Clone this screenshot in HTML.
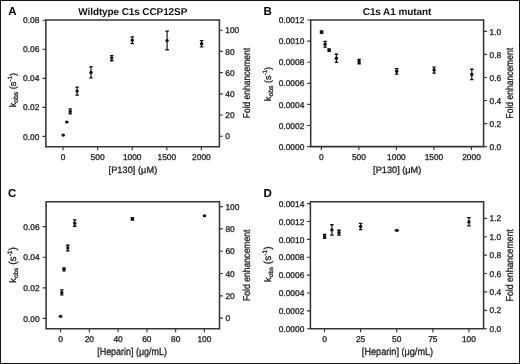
<!DOCTYPE html>
<html><head><meta charset="utf-8"><style>
html,body{margin:0;padding:0;background:#fff;}
body{width:520px;height:364px;overflow:hidden;}
svg{display:block;filter:grayscale(1);}
text{font-family:"Liberation Sans",sans-serif;text-rendering:geometricPrecision;}
.t{font-size:8.4px;fill:#1e1e1e;stroke:#1e1e1e;stroke-width:0.3px;}
.L{font-size:11.5px;font-weight:bold;fill:#000;}
.T{font-size:10px;font-weight:bold;fill:#111;}
.X{font-size:9.2px;fill:#1e1e1e;stroke:#1e1e1e;stroke-width:0.3px;}
.Y{font-size:9.2px;fill:#1e1e1e;stroke:#1e1e1e;stroke-width:0.3px;}
.sb{font-size:6.8px;}
.sp{font-size:6.2px;}
</style></head><body>
<svg width="520" height="364" viewBox="0 0 520 364">
<rect x="0.5" y="0.5" width="519" height="363" fill="#fff" stroke="#151515" stroke-width="1"/>
<path d="M45.85,20H219.4V146.7H45.85Z" fill="none" stroke="#353535" stroke-width="1.55"/>
<text x="39.4" y="139.5" text-anchor="end" class="t">0.00</text>
<text x="39.4" y="110.45" text-anchor="end" class="t">0.02</text>
<text x="39.4" y="81.4" text-anchor="end" class="t">0.04</text>
<text x="39.4" y="52.35" text-anchor="end" class="t">0.06</text>
<text x="39.4" y="23.3" text-anchor="end" class="t">0.08</text>
<text x="225.3" y="139.3" class="t">0</text>
<text x="225.3" y="118.1" class="t">20</text>
<text x="225.3" y="96.9" class="t">40</text>
<text x="225.3" y="75.7" class="t">60</text>
<text x="225.3" y="54.5" class="t">80</text>
<text x="225.3" y="33.3" class="t">100</text>
<text x="63" y="160.1" text-anchor="middle" class="t">0</text>
<text x="97.6" y="160.1" text-anchor="middle" class="t">500</text>
<text x="132.2" y="160.1" text-anchor="middle" class="t">1000</text>
<text x="166.8" y="160.1" text-anchor="middle" class="t">1500</text>
<text x="201.4" y="160.1" text-anchor="middle" class="t">2000</text>
<path d="M42.45,136.4H45.85M42.45,107.35H45.85M42.45,78.3H45.85M42.45,49.25H45.85M42.45,20.2H45.85M219.4,136.2H222.8M219.4,115H222.8M219.4,93.8H222.8M219.4,72.6H222.8M219.4,51.4H222.8M219.4,30.2H222.8M63,146.7V150.2M97.6,146.7V150.2M132.2,146.7V150.2M166.8,146.7V150.2M201.4,146.7V150.2" stroke="#353535" stroke-width="1.15"/>
<ellipse cx="63.2" cy="135.1" rx="1.85" ry="1.6" fill="#111"/>
<ellipse cx="66.8" cy="122" rx="1.85" ry="1.6" fill="#111"/>
<path d="M70.2,108.9V113.9" stroke="#111" stroke-width="1.15"/>
<path d="M68.45,108.95H71.95M68.45,113.85H71.95" stroke="#111" stroke-width="1.3"/>
<circle cx="70.2" cy="111.5" r="1.7" fill="#111"/>
<path d="M77.1,87V95.1" stroke="#111" stroke-width="1.15"/>
<path d="M75.35,87.05H78.85M75.35,95.05H78.85" stroke="#111" stroke-width="1.3"/>
<circle cx="77.1" cy="91.1" r="1.7" fill="#111"/>
<path d="M91,66.8V78" stroke="#111" stroke-width="1.15"/>
<path d="M89.25,66.85H92.75M89.25,77.95H92.75" stroke="#111" stroke-width="1.3"/>
<circle cx="91" cy="72.4" r="1.7" fill="#111"/>
<path d="M111.7,55.6V60.8" stroke="#111" stroke-width="1.15"/>
<path d="M109.95,55.65H113.45M109.95,60.75H113.45" stroke="#111" stroke-width="1.3"/>
<circle cx="111.7" cy="57.9" r="1.7" fill="#111"/>
<path d="M132.3,36.9V43.7" stroke="#111" stroke-width="1.15"/>
<path d="M130.55,36.95H134.05M130.55,43.65H134.05" stroke="#111" stroke-width="1.3"/>
<circle cx="132.3" cy="40.3" r="1.7" fill="#111"/>
<path d="M167.1,31.1V49.8" stroke="#111" stroke-width="1.15"/>
<path d="M165.35,31.15H168.85M165.35,49.75H168.85" stroke="#111" stroke-width="1.3"/>
<circle cx="167.1" cy="40.6" r="1.7" fill="#111"/>
<path d="M201.6,40.6V46.9" stroke="#111" stroke-width="1.15"/>
<path d="M199.85,40.65H203.35M199.85,46.85H203.35" stroke="#111" stroke-width="1.3"/>
<circle cx="201.6" cy="43.8" r="1.7" fill="#111"/>
<path d="M310.7,20H483.6V146.6H310.7Z" fill="none" stroke="#353535" stroke-width="1.55"/>
<text x="304.3" y="149.7" text-anchor="end" class="t">0.0000</text>
<text x="304.3" y="128.6" text-anchor="end" class="t">0.0002</text>
<text x="304.3" y="107.5" text-anchor="end" class="t">0.0004</text>
<text x="304.3" y="86.4" text-anchor="end" class="t">0.0006</text>
<text x="304.3" y="65.3" text-anchor="end" class="t">0.0008</text>
<text x="304.3" y="44.2" text-anchor="end" class="t">0.0010</text>
<text x="304.3" y="23.1" text-anchor="end" class="t">0.0012</text>
<text x="489.5" y="149.7" class="t">0.0</text>
<text x="489.5" y="126.66" class="t">0.2</text>
<text x="489.5" y="103.62" class="t">0.4</text>
<text x="489.5" y="80.58" class="t">0.6</text>
<text x="489.5" y="57.54" class="t">0.8</text>
<text x="489.5" y="34.5" class="t">1.0</text>
<text x="321.4" y="160.1" text-anchor="middle" class="t">0</text>
<text x="358.92" y="160.1" text-anchor="middle" class="t">500</text>
<text x="396.44" y="160.1" text-anchor="middle" class="t">1000</text>
<text x="433.96" y="160.1" text-anchor="middle" class="t">1500</text>
<text x="471.48" y="160.1" text-anchor="middle" class="t">2000</text>
<path d="M307.3,146.6H310.7M307.3,125.5H310.7M307.3,104.4H310.7M307.3,83.3H310.7M307.3,62.2H310.7M307.3,41.1H310.7M307.3,20H310.7M483.6,146.6H487M483.6,123.56H487M483.6,100.52H487M483.6,77.48H487M483.6,54.44H487M483.6,31.4H487M321.4,146.6V150.1M358.92,146.6V150.1M396.44,146.6V150.1M433.96,146.6V150.1M471.48,146.6V150.1" stroke="#353535" stroke-width="1.15"/>
<rect x="319.8" y="30.25" width="3.6" height="3.7" fill="#111"/>
<path d="M325.1,41.4V47.2" stroke="#111" stroke-width="1.15"/>
<path d="M323.35,41.45H326.85M323.35,47.15H326.85" stroke="#111" stroke-width="1.3"/>
<circle cx="325.1" cy="44.3" r="1.7" fill="#111"/>
<rect x="327.4" y="48.15" width="3.4" height="3.9" fill="#111"/>
<path d="M336.4,54.2V62.4" stroke="#111" stroke-width="1.15"/>
<path d="M334.65,54.25H338.15M334.65,62.35H338.15" stroke="#111" stroke-width="1.3"/>
<circle cx="336.4" cy="58.3" r="1.7" fill="#111"/>
<path d="M359.1,59.3V63.8" stroke="#111" stroke-width="1.15"/>
<path d="M357.35,59.35H360.85M357.35,63.75H360.85" stroke="#111" stroke-width="1.3"/>
<circle cx="359.1" cy="61.5" r="1.7" fill="#111"/>
<path d="M396.7,68.5V74.2" stroke="#111" stroke-width="1.15"/>
<path d="M394.95,68.55H398.45M394.95,74.15H398.45" stroke="#111" stroke-width="1.3"/>
<circle cx="396.7" cy="71.3" r="1.7" fill="#111"/>
<path d="M434.1,67.1V73.1" stroke="#111" stroke-width="1.15"/>
<path d="M432.35,67.15H435.85M432.35,73.05H435.85" stroke="#111" stroke-width="1.3"/>
<circle cx="434.1" cy="70" r="1.7" fill="#111"/>
<path d="M471.8,69.2V79.6" stroke="#111" stroke-width="1.15"/>
<path d="M470.05,69.25H473.55M470.05,79.55H473.55" stroke="#111" stroke-width="1.3"/>
<circle cx="471.8" cy="74.4" r="1.7" fill="#111"/>
<path d="M46.1,201.8H219.5V328.8H46.1Z" fill="none" stroke="#353535" stroke-width="1.55"/>
<text x="39.6" y="321.5" text-anchor="end" class="t">0.00</text>
<text x="39.6" y="290.9" text-anchor="end" class="t">0.02</text>
<text x="39.6" y="260.3" text-anchor="end" class="t">0.04</text>
<text x="39.6" y="229.7" text-anchor="end" class="t">0.06</text>
<text x="225.4" y="321.2" class="t">0</text>
<text x="225.4" y="298.9" class="t">20</text>
<text x="225.4" y="276.6" class="t">40</text>
<text x="225.4" y="254.3" class="t">60</text>
<text x="225.4" y="232" class="t">80</text>
<text x="225.4" y="209.7" class="t">100</text>
<text x="60.6" y="342" text-anchor="middle" class="t">0</text>
<text x="89.36" y="342" text-anchor="middle" class="t">20</text>
<text x="118.12" y="342" text-anchor="middle" class="t">40</text>
<text x="146.88" y="342" text-anchor="middle" class="t">60</text>
<text x="175.64" y="342" text-anchor="middle" class="t">80</text>
<text x="204.4" y="342" text-anchor="middle" class="t">100</text>
<path d="M42.7,318.4H46.1M42.7,287.8H46.1M42.7,257.2H46.1M42.7,226.6H46.1M219.5,318.1H222.9M219.5,295.8H222.9M219.5,273.5H222.9M219.5,251.2H222.9M219.5,228.9H222.9M219.5,206.6H222.9M60.6,328.8V332.3M89.36,328.8V332.3M118.12,328.8V332.3M146.88,328.8V332.3M175.64,328.8V332.3M204.4,328.8V332.3" stroke="#353535" stroke-width="1.15"/>
<ellipse cx="60.5" cy="316.3" rx="1.85" ry="1.6" fill="#111"/>
<path d="M61.8,289.9V295" stroke="#111" stroke-width="1.15"/>
<path d="M60.05,289.95H63.55M60.05,294.95H63.55" stroke="#111" stroke-width="1.3"/>
<circle cx="61.8" cy="292.6" r="1.7" fill="#111"/>
<rect x="62.35" y="267.2" width="3.3" height="4.3" fill="#111"/>
<path d="M67.8,245.2V250.9" stroke="#111" stroke-width="1.15"/>
<path d="M66.05,245.25H69.55M66.05,250.85H69.55" stroke="#111" stroke-width="1.3"/>
<circle cx="67.8" cy="247.9" r="1.7" fill="#111"/>
<path d="M74.7,219.8V226.3" stroke="#111" stroke-width="1.15"/>
<path d="M72.95,219.85H76.45M72.95,226.25H76.45" stroke="#111" stroke-width="1.3"/>
<circle cx="74.7" cy="223.2" r="1.7" fill="#111"/>
<rect x="130.65" y="217.05" width="3.4" height="3.7" fill="#111"/>
<ellipse cx="204.5" cy="215.75" rx="1.85" ry="1.6" fill="#111"/>
<path d="M310.4,201.7H483.6V328.7H310.4Z" fill="none" stroke="#353535" stroke-width="1.55"/>
<text x="304.3" y="331.8" text-anchor="end" class="t">0.0000</text>
<text x="304.3" y="313.94" text-anchor="end" class="t">0.0002</text>
<text x="304.3" y="296.08" text-anchor="end" class="t">0.0004</text>
<text x="304.3" y="278.22" text-anchor="end" class="t">0.0006</text>
<text x="304.3" y="260.36" text-anchor="end" class="t">0.0008</text>
<text x="304.3" y="242.5" text-anchor="end" class="t">0.0010</text>
<text x="304.3" y="224.64" text-anchor="end" class="t">0.0012</text>
<text x="304.3" y="206.78" text-anchor="end" class="t">0.0014</text>
<text x="489.5" y="331.8" class="t">0.0</text>
<text x="489.5" y="313.4" class="t">0.2</text>
<text x="489.5" y="295" class="t">0.4</text>
<text x="489.5" y="276.6" class="t">0.6</text>
<text x="489.5" y="258.2" class="t">0.8</text>
<text x="489.5" y="239.8" class="t">1.0</text>
<text x="489.5" y="221.4" class="t">1.2</text>
<text x="324.5" y="342" text-anchor="middle" class="t">0</text>
<text x="360.6" y="342" text-anchor="middle" class="t">25</text>
<text x="396.7" y="342" text-anchor="middle" class="t">50</text>
<text x="432.8" y="342" text-anchor="middle" class="t">75</text>
<text x="468.9" y="342" text-anchor="middle" class="t">100</text>
<path d="M307,328.7H310.4M307,310.84H310.4M307,292.98H310.4M307,275.12H310.4M307,257.26H310.4M307,239.4H310.4M307,221.54H310.4M307,203.68H310.4M483.6,328.7H487M483.6,310.3H487M483.6,291.9H487M483.6,273.5H487M483.6,255.1H487M483.6,236.7H487M483.6,218.3H487M324.5,328.7V332.2M360.6,328.7V332.2M396.7,328.7V332.2M432.8,328.7V332.2M468.9,328.7V332.2" stroke="#353535" stroke-width="1.15"/>
<path d="M324.6,234.4V238.4" stroke="#111" stroke-width="1.15"/>
<path d="M322.85,234.45H326.35M322.85,238.35H326.35" stroke="#111" stroke-width="1.3"/>
<circle cx="324.6" cy="236.5" r="1.7" fill="#111"/>
<path d="M331.9,224.7V235.1" stroke="#111" stroke-width="1.15"/>
<path d="M330.15,224.75H333.65M330.15,235.05H333.65" stroke="#111" stroke-width="1.3"/>
<circle cx="331.9" cy="229.9" r="1.7" fill="#111"/>
<path d="M339,230.2V235.1" stroke="#111" stroke-width="1.15"/>
<path d="M337.25,230.25H340.75M337.25,235.05H340.75" stroke="#111" stroke-width="1.3"/>
<circle cx="339" cy="232.8" r="1.7" fill="#111"/>
<path d="M360.6,223.4V229.6" stroke="#111" stroke-width="1.15"/>
<path d="M358.85,223.45H362.35M358.85,229.55H362.35" stroke="#111" stroke-width="1.3"/>
<circle cx="360.6" cy="226.5" r="1.7" fill="#111"/>
<ellipse cx="396.8" cy="230.35" rx="2.1" ry="1.55" fill="#111"/>
<path d="M468.95,217.6V226" stroke="#111" stroke-width="1.15"/>
<path d="M467.2,217.65H470.7M467.2,225.95H470.7" stroke="#111" stroke-width="1.3"/>
<circle cx="468.95" cy="221.9" r="1.7" fill="#111"/>
<text x="8.3" y="15.4" class="L">A</text>
<text x="263.5" y="15.2" class="L">B</text>
<text x="8.1" y="197.4" class="L">C</text>
<text x="263.5" y="197.4" class="L">D</text>
<text x="132.8" y="14.5" text-anchor="middle" class="T" textLength="109" lengthAdjust="spacing">Wildtype C1s CCP12SP</text>
<text x="397" y="14.5" text-anchor="middle" class="T" textLength="68.5" lengthAdjust="spacing">C1s A1 mutant</text>
<text x="132.9" y="172.7" text-anchor="middle" class="X" textLength="48.6" lengthAdjust="spacing">[P130] (μM)</text>
<text x="397.2" y="173.0" text-anchor="middle" class="X" textLength="48.2" lengthAdjust="spacing">[P130] (μM)</text>
<text x="132.1" y="355.2" text-anchor="middle" class="X" style="font-size:10.2px" textLength="69.8" lengthAdjust="spacingAndGlyphs">[Heparin] (μg/mL)</text>
<text x="397.5" y="355.0" text-anchor="middle" class="X" style="font-size:10.2px" textLength="71.3" lengthAdjust="spacingAndGlyphs">[Heparin] (μg/mL)</text>
<text transform="translate(16,107.3) rotate(-90)" class="Y" style="font-size:9.2px">k<tspan style="font-size:6.8px" dy="1.6">obs</tspan><tspan style="font-size:9.2px" dy="-1.6"> (s</tspan><tspan style="font-size:6.2px" dy="-3.6">-1</tspan><tspan style="font-size:9.2px" dy="3.6">)</tspan></text>
<text transform="translate(270.9,101.2) rotate(-90)" class="Y" style="font-size:9.2px">k<tspan style="font-size:6.8px" dy="1.6">obs</tspan><tspan style="font-size:9.2px" dy="-1.6"> (s</tspan><tspan style="font-size:6.2px" dy="-3.6">-1</tspan><tspan style="font-size:9.2px" dy="3.6">)</tspan></text>
<text transform="translate(15.9,282.7) rotate(-90)" class="Y" style="font-size:9.4px">k<tspan style="font-size:6.4px" dy="1.6">obs</tspan><tspan style="font-size:10.2px" dy="-1.6"> (s</tspan><tspan style="font-size:6.6px" dy="-4.0">-1</tspan><tspan style="font-size:10.2px" dy="4.0">)</tspan></text>
<text transform="translate(271,282) rotate(-90)" class="Y" style="font-size:9.4px">k<tspan style="font-size:6.4px" dy="1.6">obs</tspan><tspan style="font-size:10.2px" dy="-1.6"> (s</tspan><tspan style="font-size:6.6px" dy="-4.0">-1</tspan><tspan style="font-size:10.2px" dy="4.0">)</tspan></text>
<text transform="translate(249.6,83.1) rotate(-90)" text-anchor="middle" class="X" style="font-size:10px" textLength="70.3" lengthAdjust="spacingAndGlyphs">Fold enhancement</text>
<text transform="translate(512.8,83.2) rotate(-90)" text-anchor="middle" class="X" style="font-size:10px" textLength="70.5" lengthAdjust="spacingAndGlyphs">Fold enhancement</text>
<text transform="translate(249.8,265.3) rotate(-90)" text-anchor="middle" class="X" style="font-size:10px" textLength="71.3" lengthAdjust="spacingAndGlyphs">Fold enhancement</text>
<text transform="translate(513.3,265.3) rotate(-90)" text-anchor="middle" class="X" style="font-size:10px" textLength="72.2" lengthAdjust="spacingAndGlyphs">Fold enhancement</text>
</svg>
</body></html>
